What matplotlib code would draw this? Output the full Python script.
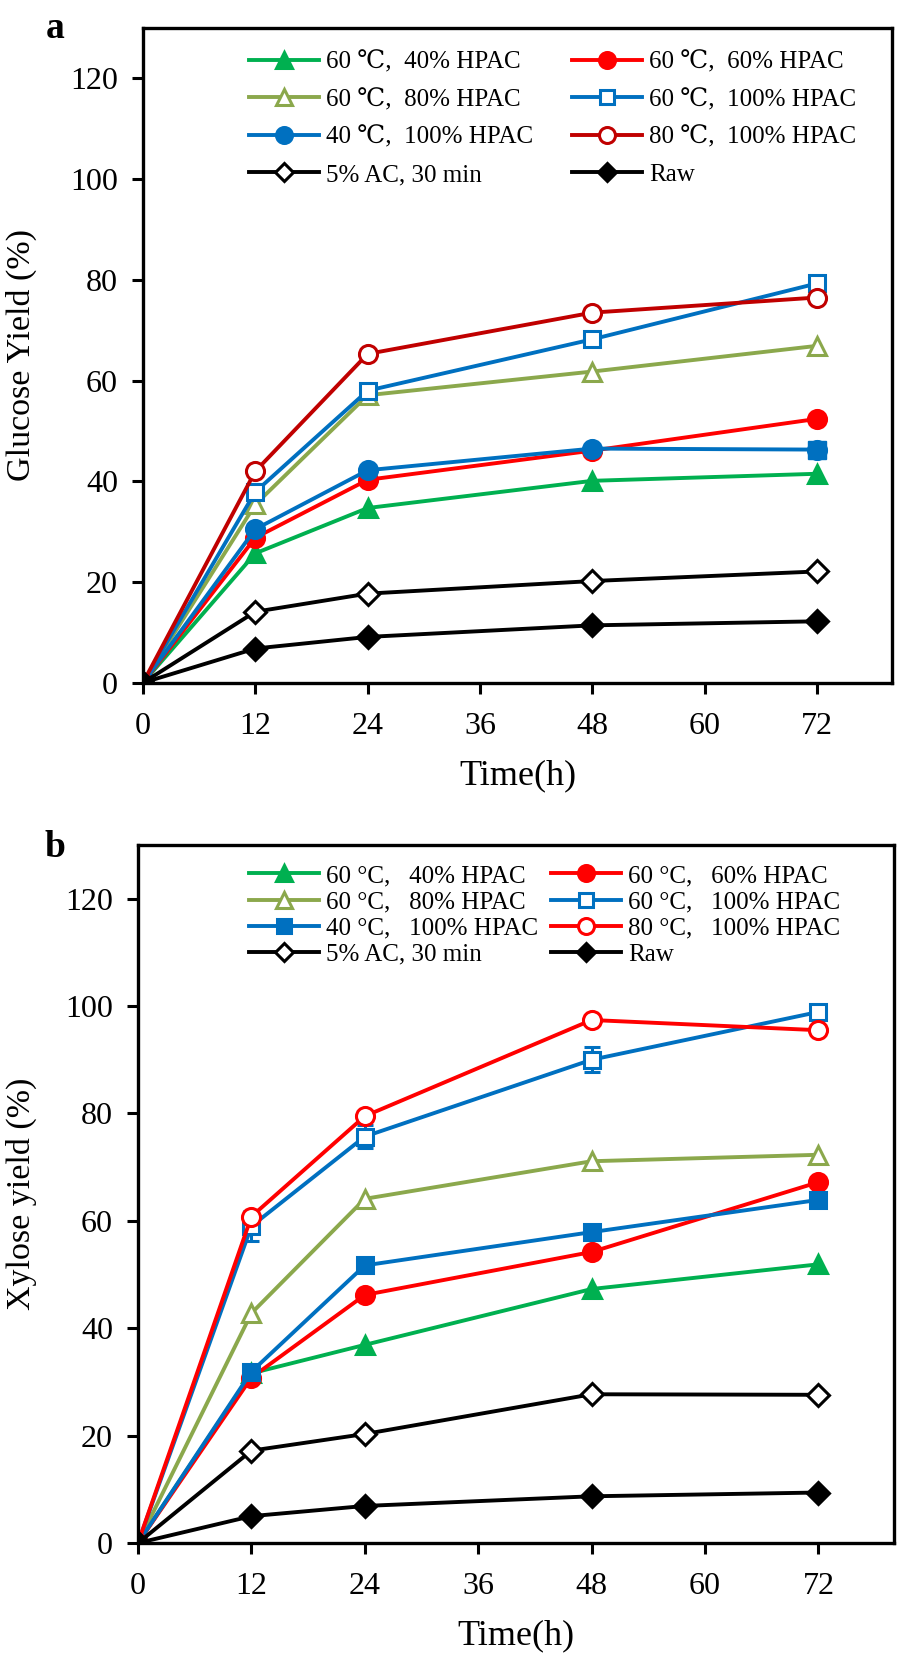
import matplotlib
matplotlib.use('Agg')
import matplotlib.pyplot as plt
from matplotlib.lines import Line2D

plt.rcParams['font.family'] = ['Liberation Serif', 'DejaVu Serif']

time_h = [0, 12, 24, 48, 72]
x_ticks = [0, 12, 24, 36, 48, 60, 72]
y_ticks = [0, 20, 40, 60, 80, 100, 120]

labels_a = ['60 \u2103,  40% HPAC', '60 \u2103,  60% HPAC', '60 \u2103,  80% HPAC',
            '60 \u2103,  100% HPAC', '40 \u2103,  100% HPAC', '80 \u2103,  100% HPAC',
            '5% AC, 30 min', 'Raw']
labels_b = ['60 \u00b0C,   40% HPAC', '60 \u00b0C,   60% HPAC', '60 \u00b0C,   80% HPAC',
            '60 \u00b0C,   100% HPAC', '40 \u00b0C,   100% HPAC', '80 \u00b0C,   100% HPAC',
            '5% AC, 30 min', 'Raw']

# glucose yield (%)
glu_t60_40 = [0, 25.7, 34.7, 40.1, 41.5]
glu_t60_60 = [0, 28.8, 40.3, 46.1, 52.4]
glu_t60_80 = [0, 35.4, 57.1, 61.8, 66.9]
glu_t60_100 = [0, 37.9, 58.0, 68.2, 79.3]
glu_t40_100 = [0, 30.5, 42.2, 46.5, 46.3]
glu_t80_100 = [0, 42.0, 65.3, 73.5, 76.5]
glu_ac = [0, 14.1, 17.7, 20.2, 22.1]
glu_raw = [0, 6.8, 9.1, 11.4, 12.2]

# xylose yield (%)
xyl_t60_40 = [0, 31.6, 36.9, 47.3, 51.9]
xyl_t60_60 = [0, 30.8, 46.2, 54.2, 67.2]
xyl_t60_80 = [0, 42.8, 64.1, 71.1, 72.3]
xyl_t60_100 = [0, 59.0, 75.7, 90.0, 98.9]
xyl_t60_100_err = [0, 2.8, 2.2, 2.3, 0.4]
xyl_t40_100 = [0, 31.9, 51.7, 57.9, 63.9]
xyl_t80_100 = [0, 60.8, 79.5, 97.4, 95.5]
xyl_ac = [0, 17.2, 20.3, 27.7, 27.6]
xyl_raw = [0, 5.0, 6.9, 8.7, 9.4]

green = '#00B050'
red = '#FF0000'
olive = '#8BA84C'
blue = '#0070C0'
darkred = '#C00000'

# (color, marker, face) per series
styles_a = [(green, '^', green), (red, 'o', red), (olive, '^', 'white'),
            (blue, 's', 'white'), (blue, 'o', blue), (darkred, 'o', 'white'),
            ('black', 'D', 'white'), ('black', 'D', 'black')]
styles_b = [(green, '^', green), (red, 'o', red), (olive, '^', 'white'),
            (blue, 's', 'white'), (blue, 's', blue), (red, 'o', 'white'),
            ('black', 'D', 'white'), ('black', 'D', 'black')]
msizes = {'^': 13, 'o': 13, 's': 12, 'D': 11}

fig = plt.figure(figsize=(8.98, 16.62), dpi=100)
ax_a = fig.add_axes([0.1592, 0.5892, 0.8341, 0.3939])
ax_b = fig.add_axes([0.1537, 0.0716, 0.8419, 0.4200])


def draw(ax, series, styles, errs=None):
    handles = []
    for i, (vals, (c, m, fc)) in enumerate(zip(series, styles)):
        ms = msizes[m]
        yerr = errs[i] if errs is not None else None
        if yerr is not None:
            ax.errorbar(time_h, vals, yerr=yerr, color=c, lw=0, elinewidth=2.2,
                        capsize=6, capthick=2.2, zorder=2)
        ax.plot(time_h, vals, color=c, lw=2.8, marker=m, ms=ms,
                mfc=fc, mec=c, mew=2.2, zorder=3)
        handles.append(Line2D([], [], color=c, lw=2.8, marker=m, ms=ms - 1.5,
                              mfc=fc, mec=c, mew=2.2))
    return handles


series_a = [glu_t60_40, glu_t60_60, glu_t60_80, glu_t60_100,
            glu_t40_100, glu_t80_100, glu_ac, glu_raw]
series_b = [xyl_t60_40, xyl_t60_60, xyl_t60_80, xyl_t60_100,
            xyl_t40_100, xyl_t80_100, xyl_ac, xyl_raw]
errs_b = [None, None, None, xyl_t60_100_err, None, None, None, None]

h_a = draw(ax_a, series_a, styles_a)
# last point of the 40 C series is drawn as a square in the original
ax_a.plot(time_h[-1:], glu_t40_100[-1:], ls='none', marker='s', ms=12.5,
          mfc=blue, mec=blue, zorder=4)
h_b = draw(ax_b, series_b, styles_b, errs_b)


def legends(ax, handles, labels, x1, x2, ytop, spacing):
    kw = dict(loc='upper left', frameon=False, fontsize=18, borderpad=0,
              borderaxespad=0, handlelength=2.8, handletextpad=0.28,
              labelspacing=spacing, numpoints=1)
    l1 = ax.legend(handles[0::2], labels[0::2], bbox_to_anchor=(x1, ytop), **kw)
    ax.add_artist(l1)
    ax.legend(handles[1::2], labels[1::2], bbox_to_anchor=(x2, ytop), **kw)


legends(ax_a, h_a, labels_a, 0.1415, 0.573, 0.965, 0.6)
legends(ax_b, h_b, labels_b, 0.1468, 0.546, 0.972, 0.15)

panels = [(ax_a, 'Glucose Yield (%)', 'a', -0.1175, 1.0, -0.1415),
          (ax_b, 'Xylose yield (%)', 'b', -0.110, 0.9957, -0.1336)]
for ax, ylab, letter, lx, ly, yl in panels:
    ax.set_xlim(0, 80)
    ax.set_ylim(0, 130)
    ax.set_xticks(x_ticks)
    ax.set_yticks(y_ticks)
    ax.tick_params(axis='both', direction='out', length=8, width=2.2,
                   labelsize=23, top=False, right=False)
    ax.tick_params(axis='x', pad=13)
    ax.tick_params(axis='y', pad=10)
    for sp in ax.spines.values():
        sp.set_linewidth(2.4)
    ax.set_xlabel('Time(h)', fontsize=26, labelpad=13)
    ax.set_ylabel(ylab, fontsize=24.5)
    ax.yaxis.set_label_coords(yl, 0.5)
    ax.text(lx, ly, letter, transform=ax.transAxes, fontsize=27,
            fontweight='bold', ha='center', va='center')

fig.savefig('out.png', dpi=100)
